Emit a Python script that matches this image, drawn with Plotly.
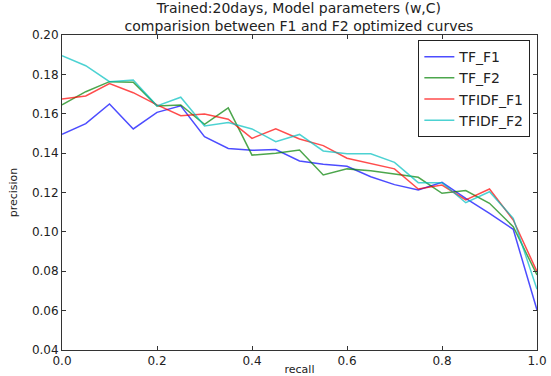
import plotly.graph_objects as go

recall = [0.0, 0.05, 0.10, 0.15, 0.20, 0.25, 0.30, 0.35, 0.40, 0.45, 0.50,
          0.55, 0.60, 0.65, 0.70, 0.75, 0.80, 0.85, 0.90, 0.95, 1.0]

tf_f1 = [0.1496, 0.155, 0.165, 0.1523, 0.1607, 0.164, 0.1484, 0.1424, 0.1414, 0.1418, 0.136,
         0.1343, 0.1333, 0.128, 0.124, 0.1213, 0.1252, 0.117, 0.1094, 0.1013, 0.0603]
tf_f2 = [0.1645, 0.1712, 0.1763, 0.176, 0.164, 0.1645, 0.1546, 0.163, 0.139, 0.140, 0.1416,
         0.1289, 0.132, 0.131, 0.1294, 0.1277, 0.1196, 0.121, 0.1145, 0.1026, 0.0781]
tfidf_f1 = [0.1675, 0.169, 0.1753, 0.1707, 0.1645, 0.159, 0.1599, 0.1572, 0.1475, 0.1523, 0.1472,
            0.1438, 0.1374, 0.1348, 0.132, 0.1218, 0.1238, 0.1162, 0.1218, 0.106, 0.0798]
tfidf_f2 = [0.1895, 0.1844, 0.1763, 0.1771, 0.164, 0.1684, 0.1538, 0.1556, 0.1523, 0.1458, 0.1495,
            0.1411, 0.1397, 0.1397, 0.1353, 0.125, 0.125, 0.1148, 0.1204, 0.1069, 0.0708]

series = [
    ("TF_F1", tf_f1, "rgba(0,0,255,0.7)"),
    ("TF_F2", tf_f2, "rgba(0,128,0,0.7)"),
    ("TFIDF_F1", tfidf_f1, "rgba(255,0,0,0.7)"),
    ("TFIDF_F2", tfidf_f2, "rgba(0,191,191,0.7)"),
]

x_ticks = [0.0, 0.2, 0.4, 0.6, 0.8, 1.0]
y_ticks = [0.04, 0.06, 0.08, 0.10, 0.12, 0.14, 0.16, 0.18, 0.20]

FONT = "DejaVu Sans, Liberation Sans, sans-serif"

fig = go.Figure()
for name, ys, color in series:
    fig.add_trace(go.Scatter(x=recall, y=ys, mode="lines", name=name,
                             line=dict(color=color, width=1.5)))

axis_common = dict(
    showline=True, linecolor="#333333", linewidth=1, mirror="allticks",
    ticks="inside", ticklen=4, tickcolor="#333333", tickwidth=1,
    showgrid=False, zeroline=False, automargin=False,
    tickfont=dict(family=FONT, size=12, color="#222222"),
)

fig.update_layout(
    width=551, height=376,
    margin=dict(l=62, r=14, t=35, b=26),
    paper_bgcolor="white", plot_bgcolor="white",
    title=dict(text="Trained:20days, Model parameters (w,C)<br>comparision between F1 and F2 optimized curves",
               x=0.5425, xanchor="center", yref="container", y=0.966, yanchor="middle",
               font=dict(family=FONT, size=14, color="#222222")),
    xaxis=dict(range=[0, 1], tickvals=x_ticks, ticktext=[f"{v:.1f}" for v in x_ticks],
               title=dict(text="recall", standoff=0, font=dict(family=FONT, size=11, color="#222222")),
               **axis_common),
    yaxis=dict(range=[0.04, 0.20], tickvals=y_ticks, ticktext=[f"{v:.2f}" for v in y_ticks],
               title=dict(text="precision", standoff=12, font=dict(family=FONT, size=11, color="#222222")),
               **axis_common),
    legend=dict(x=0.986, xanchor="right", y=0.984, yanchor="top",
                bordercolor="#222222", borderwidth=1, bgcolor="white",
                font=dict(family=FONT, size=14, color="#222222"),
                tracegroupgap=0, itemwidth=30),
    showlegend=True,
)

fig.write_html("out.html")
